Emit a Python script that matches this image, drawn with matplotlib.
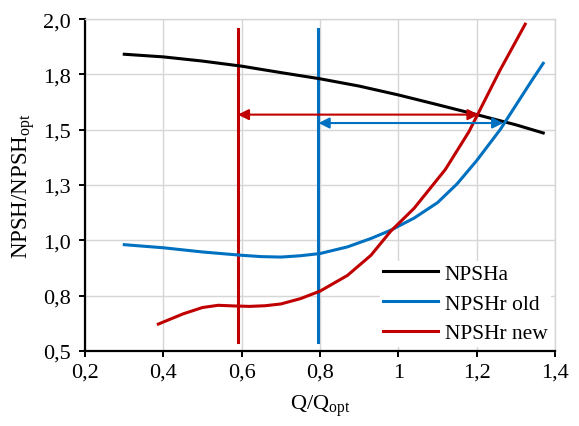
import numpy as np
import matplotlib
matplotlib.use("Agg")
import matplotlib.pyplot as plt
from matplotlib.ticker import FuncFormatter

plt.rcParams['font.family'] = ['Liberation Serif', 'DejaVu Serif']
plt.rcParams['mathtext.default'] = 'regular'

# curves
q_npsha = [0.30, 0.40, 0.50, 0.60, 0.70, 0.80, 0.90, 1.00, 1.10, 1.20, 1.30, 1.37]
npsha = [1.841, 1.829, 1.810, 1.787, 1.758, 1.730, 1.697, 1.657, 1.613, 1.568, 1.522, 1.485]

q_old = [0.30, 0.40, 0.50, 0.60, 0.65, 0.70, 0.75, 0.80, 0.87, 0.93, 0.98, 1.04,
         1.10, 1.15, 1.20, 1.26, 1.30, 1.34, 1.37]
npshr_old = [0.980, 0.966, 0.947, 0.932, 0.926, 0.924, 0.930, 0.940, 0.970, 1.008,
             1.045, 1.100, 1.170, 1.255, 1.360, 1.500, 1.610, 1.720, 1.800]

q_new = [0.387, 0.45, 0.50, 0.54, 0.58, 0.62, 0.66, 0.70, 0.75, 0.80, 0.87, 0.93, 0.98,
         1.04, 1.12, 1.18, 1.20, 1.26, 1.324]
npshr_new = [0.621, 0.667, 0.696, 0.706, 0.703, 0.701, 0.704, 0.712, 0.736, 0.770, 0.841,
             0.932, 1.040, 1.144, 1.320, 1.490, 1.560, 1.770, 1.977]

# operating point markers
q_op_new, q_op_old = 0.59, 0.796
vline_range = [0.538, 1.955]
arrow_new = (1.205, 1.568)   # (x of right tip, y)
arrow_old = (1.268, 1.530)

red = '#C00000'
blue = '#0070C0'

fig = plt.figure(figsize=(5.79, 4.27), dpi=100)
ax = fig.add_axes([0.147, 0.176, 0.8115, 0.777])

ax.plot(q_npsha, npsha, color='black', lw=2.2, label='NPSHa', zorder=4)
ax.plot(q_old, npshr_old, color=blue, lw=2.2, label='NPSHr old', zorder=4)
ax.plot(q_new, npshr_new, color=red, lw=2.2, label='NPSHr new', zorder=4)

ax.plot([q_op_new, q_op_new], vline_range, color=red, lw=2.2, zorder=3)
ax.plot([q_op_old, q_op_old], vline_range, color=blue, lw=2.2, zorder=3)

ax.annotate('', xy=(q_op_new, arrow_new[1]), xytext=(arrow_new[0], arrow_new[1]),
            arrowprops=dict(arrowstyle='<|-|>', color=red, lw=1.5,
                            mutation_scale=16, shrinkA=0, shrinkB=0), zorder=5)
ax.annotate('', xy=(q_op_old, arrow_old[1]), xytext=(arrow_old[0], arrow_old[1]),
            arrowprops=dict(arrowstyle='<|-|>', color=blue, lw=1.5,
                            mutation_scale=16, shrinkA=0, shrinkB=0), zorder=5)

ax.set_xlim(0.2, 1.4)
ax.set_ylim(0.5, 2.0)
ax.set_xticks(np.arange(0.2, 1.41, 0.2))
ax.set_yticks(np.arange(0.5, 2.01, 0.25))
ax.xaxis.set_major_formatter(FuncFormatter(lambda v, p: f"{v:g}".replace('.', ',')))
ax.yaxis.set_major_formatter(FuncFormatter(lambda v, p: f"{v + 1e-9:.1f}".replace('.', ',')))

ax.grid(True, color='#d6d6d6', lw=1.0)
ax.set_axisbelow(True)
for s in ['top', 'right']:
    ax.spines[s].set_color('#d6d6d6')
    ax.spines[s].set_linewidth(1.0)
for s in ['left', 'bottom']:
    ax.spines[s].set_color('black')
    ax.spines[s].set_linewidth(1.6)
ax.tick_params(axis='both', direction='out', length=4.5, width=1.4, labelsize=16, color='black')
ax.tick_params(axis='y', pad=6)
ax.tick_params(axis='x', pad=4)

ax.set_xlabel('Q/Q$_{opt}$', fontsize=16, labelpad=8)
ax.set_ylabel('NPSH/NPSH$_{opt}$', fontsize=16.5, labelpad=4)

leg = ax.legend(loc='lower right', fontsize=15.5, frameon=True, facecolor='white',
                edgecolor='none', framealpha=1, fancybox=False, handlelength=2.55,
                borderaxespad=0.2, borderpad=0.15, labelspacing=0.45, handletextpad=0.3)
leg.set_zorder(6)

fig.savefig('out.png', dpi=100)
